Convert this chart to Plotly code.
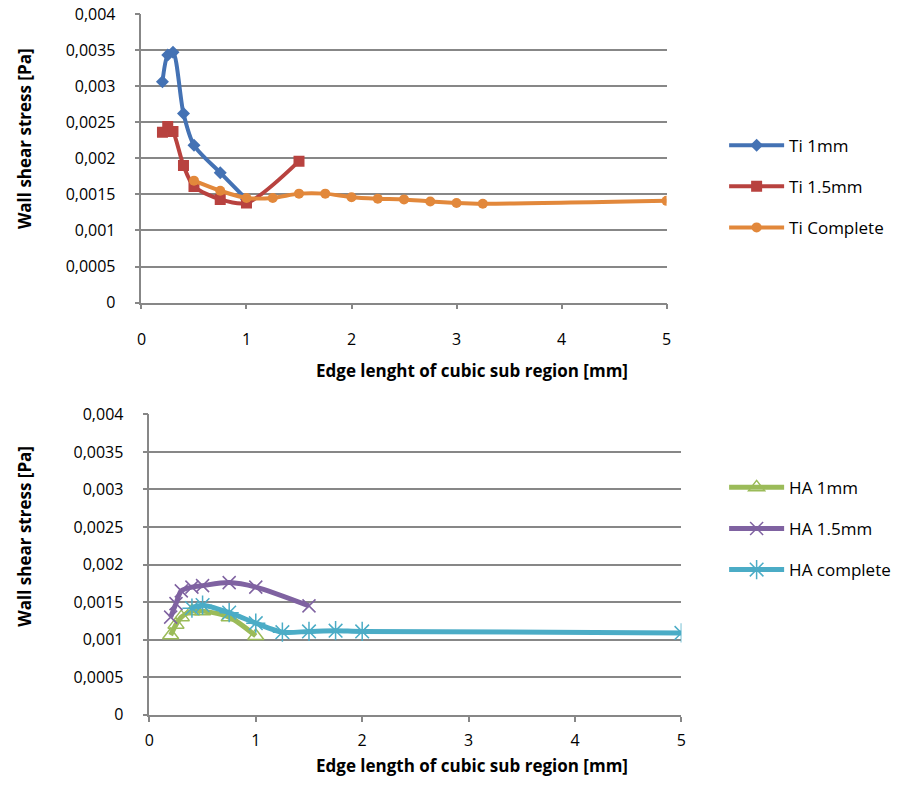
import plotly.graph_objects as go

# Edge length of the cubic sub region [mm] and wall shear stress [Pa]
edge_ti_1mm = [0.2, 0.25, 0.3, 0.4, 0.5, 0.75, 1.0]
wss_ti_1mm = [0.00306, 0.00343, 0.00347, 0.00262, 0.00218, 0.00180, 0.00143]

edge_ti_15mm = [0.2, 0.25, 0.3, 0.4, 0.5, 0.75, 1.0, 1.5]
wss_ti_15mm = [0.00236, 0.00244, 0.00237, 0.00190, 0.00161, 0.00143, 0.00138, 0.00196]

edge_ti_complete = [0.5, 0.75, 1.0, 1.25, 1.5, 1.75, 2.0, 2.25, 2.5, 2.75, 3.0, 3.25, 5.0]
wss_ti_complete = [0.00169, 0.00155, 0.00145, 0.00145, 0.00151, 0.00151, 0.00146,
                   0.00144, 0.00143, 0.00140, 0.00138, 0.00137, 0.00141]

edge_ha_1mm = [0.2, 0.25, 0.3, 0.4, 0.5, 0.75, 1.0]
wss_ha_1mm = [0.00106, 0.00120, 0.00130, 0.00138, 0.00138, 0.00130, 0.00105]

edge_ha_15mm = [0.2, 0.25, 0.3, 0.4, 0.5, 0.75, 1.0, 1.5]
wss_ha_15mm = [0.00130, 0.00148, 0.00165, 0.00170, 0.00172, 0.00176, 0.00170, 0.00145]

edge_ha_complete = [0.4, 0.5, 0.75, 1.0, 1.25, 1.5, 1.75, 2.0, 5.0]
wss_ha_complete = [0.00142, 0.00146, 0.00136, 0.00122, 0.00110, 0.00111, 0.00112, 0.00111, 0.00109]

y_tick_vals = [0, 0.0005, 0.001, 0.0015, 0.002, 0.0025, 0.003, 0.0035, 0.004]
y_tick_text = ["0", "0,0005", "0,001", "0,0015", "0,002", "0,0025", "0,003", "0,0035", "0,004"]
x_tick_vals = [0, 1, 2, 3, 4, 5]

FONT = "Open Sans"
GREY = "#878787"

fig = go.Figure()


def add_series(x, y, name, color, symbol, size, xa, ya, legend, width, open_marker=False):
    marker = dict(symbol=symbol, size=size, color=color)
    if open_marker:
        marker["line"] = dict(color=color, width=1.5)
    fig.add_trace(go.Scatter(
        x=x, y=y, name=name, mode="lines+markers",
        line=dict(color=color, width=width, shape="spline", smoothing=0.8),
        marker=marker, xaxis=xa, yaxis=ya, legend=legend, legendgroup=name,
    ))


add_series(edge_ti_1mm, wss_ti_1mm, "Ti 1mm", "#4472B4", "diamond", 10, "x", "y", "legend", 4)
add_series(edge_ti_15mm, wss_ti_15mm, "Ti 1.5mm", "#B8423F", "square", 11, "x", "y", "legend", 4)
add_series(edge_ti_complete, wss_ti_complete, "Ti Complete", "#E2883B", "circle", 10, "x", "y", "legend", 4)

add_series(edge_ha_1mm, wss_ha_1mm, "HA 1mm", "#9BBB59", "triangle-up-open", 14, "x2", "y2", "legend2", 5, True)
add_series(edge_ha_15mm, wss_ha_15mm, "HA 1.5mm", "#7F62A1", "x-thin", 13, "x2", "y2", "legend2", 5, True)
add_series(edge_ha_complete, wss_ha_complete, "HA complete", "#4BACC6", "asterisk", 16, "x2", "y2", "legend2", 5, True)

tick_font = dict(family=FONT, size=16, color="#000000")
x_common = dict(range=[0, 5], tickvals=x_tick_vals, showgrid=False, zeroline=False,
                showline=True, linecolor=GREY, linewidth=1.5, ticks="outside",
                ticklen=5, tickcolor=GREY, tickwidth=1.5, tickfont=tick_font)
y_common = dict(range=[0, 0.004], tickvals=y_tick_vals, ticktext=y_tick_text,
                showgrid=True, gridcolor=GREY, gridwidth=1.5, zeroline=False,
                showline=True, linecolor=GREY, linewidth=1.5, ticks="outside",
                ticklen=5, tickcolor=GREY, tickwidth=1.5, ticklabelstandoff=16,
                tickfont=tick_font)

legend_font = dict(family=FONT, size=17, color="#000000")
fig.update_layout(
    width=900, height=787,
    margin=dict(l=0, r=0, t=0, b=0),
    paper_bgcolor="white", plot_bgcolor="white",
    font=dict(family=FONT, size=16, color="#000000"),
    xaxis=dict(domain=[138 / 900, 669 / 900], anchor="y", ticklabelstandoff=16, **x_common),
    yaxis=dict(domain=[1 - 300 / 787, 1 - 3 / 787], anchor="x", **y_common),
    xaxis2=dict(domain=[146 / 900, 684 / 900], anchor="y2", ticklabelstandoff=5, **x_common),
    yaxis2=dict(domain=[1 - 724 / 787, 1 - 415 / 787], anchor="x2", **y_common),
    legend=dict(x=0.808, y=1 - 120 / 787, xanchor="left", yanchor="top",
                tracegroupgap=16, itemwidth=55, font=legend_font,
                bgcolor="rgba(0,0,0,0)"),
    legend2=dict(x=0.808, y=1 - 472 / 787, xanchor="left", yanchor="top",
                 tracegroupgap=16, itemwidth=55, font=legend_font,
                 bgcolor="rgba(0,0,0,0)"),
    showlegend=True,
)

title_font = dict(family=FONT, size=17, color="#000000")
for text, xp, yp, angle, pad in [
    ("<b>Wall shear stress [Pa]</b>", 20, 131, -90, 1),
    ("<b>Wall shear stress [Pa]</b>", 20, 540, -90, 1),
    ("<b>Edge lenght of cubic sub region [mm]</b>", 472, 370, 0, 1),
    ("<b>Edge length of cubic sub region [mm]</b>", 472, 776, 0, 0),
]:
    fig.add_annotation(text=text, x=xp / 900, y=1 - yp / 787, xref="paper", yref="paper",
                       xanchor="center", yanchor="middle", textangle=angle, borderpad=pad,
                       showarrow=False, font=title_font)

fig.write_html("out.html")
